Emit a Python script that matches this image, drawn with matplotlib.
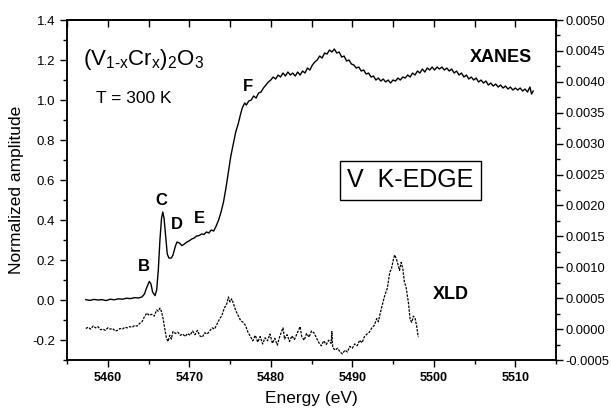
import numpy as np
import matplotlib
matplotlib.use("Agg")
import matplotlib.pyplot as plt
from matplotlib.ticker import MultipleLocator, FormatStrFormatter

plt.rcParams['font.family'] = ['Liberation Sans', 'DejaVu Sans']
plt.rcParams['mathtext.fontset'] = 'custom'
plt.rcParams['mathtext.rm'] = 'Liberation Sans'

#---- XANES (left axis, normalized amplitude) ---------------------------------
xanes_E = [5457.3, 5457.8, 5458.3, 5458.8, 5459.3, 5459.8, 5460.3, 5460.8,
           5461.3, 5461.8, 5462.3, 5462.8, 5463.3, 5463.8, 5464.2,
           5464.5, 5464.8, 5465.1, 5465.3, 5465.5, 5465.8, 5466.0, 5466.2,
           5466.4, 5466.6, 5466.75, 5466.9, 5467.1, 5467.3, 5467.5, 5467.8,
           5468.0, 5468.3, 5468.5, 5468.8, 5469.1, 5469.4, 5469.7, 5470.0,
           5470.3, 5470.6, 5470.9, 5471.2, 5471.5, 5471.8, 5472.1, 5472.4,
           5472.7, 5473.0, 5473.3, 5473.6, 5473.9, 5474.2, 5474.5, 5474.8,
           5475.1, 5475.4, 5475.7, 5476.0, 5476.3, 5476.5, 5476.8, 5477.0,
           5477.3, 5477.6, 5477.9, 5478.2, 5478.5, 5478.8, 5479.1, 5479.4,
           5479.7, 5480.0, 5480.3, 5480.6, 5480.9, 5481.2, 5481.5, 5481.8,
           5482.1, 5482.4, 5482.7, 5483.0, 5483.3, 5483.6, 5483.9, 5484.2,
           5484.5, 5484.8, 5485.1, 5485.4, 5485.7, 5486.0, 5486.3, 5486.6,
           5486.9, 5487.2, 5487.5, 5487.8, 5488.1, 5488.4, 5488.7, 5489.0,
           5489.3, 5489.6, 5489.9, 5490.2, 5490.5, 5490.8, 5491.1, 5491.4,
           5491.7, 5492.0, 5492.3, 5492.6, 5492.9, 5493.2, 5493.5, 5493.8,
           5494.1, 5494.4, 5494.7, 5495.0, 5495.3, 5495.6, 5495.9, 5496.2,
           5496.5, 5496.8, 5497.1, 5497.4, 5497.7, 5498.0, 5498.3, 5498.6,
           5498.9, 5499.2, 5499.5, 5499.8, 5500.1, 5500.4, 5500.7, 5501.0,
           5501.3, 5501.6, 5501.9, 5502.2, 5502.5, 5502.8, 5503.1, 5503.4,
           5503.7, 5504.0, 5504.3, 5504.6, 5504.9, 5505.2, 5505.5, 5505.8,
           5506.1, 5506.4, 5506.7, 5507.0, 5507.3, 5507.6, 5507.9, 5508.2,
           5508.5, 5508.8, 5509.1, 5509.4, 5509.7, 5510.0, 5510.3, 5510.6,
           5510.9, 5511.2, 5511.5, 5511.8, 5512.0, 5512.2]
xanes_v = [0.002, -0.002, 0.003, 0.000, 0.002, -0.003, 0.004, 0.001,
           0.006, 0.004, 0.009, 0.007, 0.012, 0.010, 0.016,
           0.030, 0.065, 0.093, 0.080, 0.040, 0.022, 0.050, 0.150,
           0.300, 0.410, 0.440, 0.410, 0.320, 0.230, 0.210, 0.210,
           0.225, 0.270, 0.290, 0.285, 0.272, 0.280, 0.290, 0.296,
           0.305, 0.310, 0.320, 0.322, 0.330, 0.328, 0.340, 0.335,
           0.350, 0.345, 0.370, 0.400, 0.440, 0.490, 0.560, 0.640,
           0.720, 0.780, 0.840, 0.880, 0.930, 0.960, 0.985, 0.975,
           0.995, 1.000, 1.020, 1.010, 1.035, 1.040, 1.060, 1.075,
           1.090, 1.100, 1.115, 1.105, 1.125, 1.115, 1.135, 1.120,
           1.140, 1.125, 1.135, 1.120, 1.140, 1.125, 1.145, 1.135,
           1.160, 1.150, 1.175, 1.190, 1.200, 1.220, 1.210, 1.235,
           1.230, 1.250, 1.240, 1.255, 1.235, 1.240, 1.215, 1.220,
           1.195, 1.200, 1.180, 1.175, 1.160, 1.165, 1.145, 1.150,
           1.130, 1.135, 1.115, 1.120, 1.100, 1.110, 1.095, 1.105,
           1.090, 1.100, 1.085, 1.100, 1.095, 1.110, 1.100, 1.115,
           1.110, 1.125, 1.115, 1.135, 1.125, 1.145, 1.135, 1.155,
           1.140, 1.160, 1.150, 1.165, 1.150, 1.165, 1.155, 1.165,
           1.150, 1.160, 1.145, 1.155, 1.135, 1.145, 1.125, 1.135,
           1.115, 1.125, 1.105, 1.115, 1.100, 1.110, 1.090, 1.100,
           1.085, 1.095, 1.075, 1.085, 1.070, 1.080, 1.065, 1.075,
           1.060, 1.070, 1.055, 1.065, 1.050, 1.060, 1.050, 1.060,
           1.045, 1.055, 1.040, 1.065, 1.030, 1.045]

#---- XLD (right axis) --------------------------------------------------------
xld_E = [5457.3, 5457.6, 5457.9, 5458.2, 5458.5, 5458.8, 5459.1, 5459.4,
         5459.7, 5460.0, 5460.3, 5460.6, 5460.9, 5461.2, 5461.5, 5461.8,
         5462.1, 5462.4, 5462.7, 5463.0, 5463.3, 5463.6, 5463.9, 5464.2,
         5464.5, 5464.8, 5465.1, 5465.4, 5465.7, 5466.0, 5466.2, 5466.4,
         5466.6, 5466.8, 5467.0, 5467.2, 5467.4, 5467.6, 5467.8, 5468.0,
         5468.3, 5468.6, 5468.9, 5469.2, 5469.5, 5469.8, 5470.1, 5470.4,
         5470.7, 5471.0, 5471.3, 5471.6, 5471.9, 5472.2, 5472.5, 5472.8,
         5473.1, 5473.4, 5473.7, 5474.0, 5474.3, 5474.6, 5474.8, 5475.0,
         5475.2, 5475.4, 5475.7, 5476.0, 5476.3, 5476.6, 5476.9, 5477.2,
         5477.5, 5477.8, 5478.1, 5478.4, 5478.7, 5479.0, 5479.3, 5479.6,
         5479.9, 5480.2, 5480.5, 5480.8, 5481.1, 5481.5, 5481.7, 5482.0,
         5482.3, 5482.6, 5482.9, 5483.2, 5483.6, 5483.8, 5484.1, 5484.4,
         5484.7, 5485.0, 5485.3, 5485.6, 5485.9, 5486.2, 5486.5, 5486.8,
         5487.1, 5487.4, 5487.5, 5487.6, 5487.9, 5488.2, 5488.5, 5488.8,
         5489.1, 5489.4, 5489.7, 5490.0, 5490.3, 5490.6, 5490.9, 5491.2,
         5491.5, 5491.8, 5492.1, 5492.4, 5492.7, 5493.0, 5493.2, 5493.4,
         5493.7, 5494.0, 5494.3, 5494.6, 5494.8, 5495.0, 5495.2, 5495.4,
         5495.6, 5495.8, 5496.0, 5496.2, 5496.4, 5496.6, 5496.9, 5497.1,
         5497.3, 5497.5, 5497.7, 5497.9, 5498.1]
xld_v = [0.00001, 0.00003, 0.00000, 0.00005, 0.00002, 0.00004, -0.00001, 0.00000,
         -0.00002, 0.00002, 0.00000, 0.00001, -0.00003, -0.00002, 0.00001, 0.00000,
         0.00003, 0.00002, 0.00004, 0.00003, 0.00006, 0.00005, 0.00009, 0.00012,
         0.00020, 0.00026, 0.00022, 0.00024, 0.00021, 0.00031, 0.00029, 0.00034,
         0.00028, 0.00016, 0.00000, -0.00015, -0.00020, -0.00010, -0.00016, -0.00004,
         -0.00007, -0.00005, -0.00010, -0.00008, -0.00012, -0.00007, -0.00010, -0.00003,
         -0.00009, -0.00002, -0.00011, -0.00013, -0.00006, -0.00008, -0.00003, 0.00002,
         0.00000, 0.00008, 0.00016, 0.00022, 0.00034, 0.00041, 0.00052, 0.00044,
         0.00049, 0.00042, 0.00030, 0.00022, 0.00014, 0.00011, 0.00006, -0.00005,
         -0.00012, -0.00019, -0.00010, -0.00021, -0.00012, -0.00024, -0.00014, -0.00019,
         -0.00008, -0.00023, -0.00015, -0.00026, -0.00012, 0.00002, -0.00016, -0.00009,
         -0.00020, -0.00011, -0.00017, -0.00008, 0.00004, -0.00012, -0.00018, -0.00007,
         -0.00013, -0.00003, -0.00006, -0.00014, -0.00022, -0.00027, -0.00019, -0.00025,
         -0.00018, -0.00023, -0.00004, -0.00030, -0.00034, -0.00031, -0.00037, -0.00040,
         -0.00034, -0.00037, -0.00028, -0.00031, -0.00024, -0.00027, -0.00018, -0.00022,
         -0.00012, -0.00008, -0.00005, 0.00002, 0.00006, 0.00017, 0.00012, 0.00024,
         0.00040, 0.00055, 0.00066, 0.00092, 0.00097, 0.00110, 0.00120, 0.00114,
         0.00105, 0.00095, 0.00108, 0.00098, 0.00076, 0.00068, 0.00042, 0.00015,
         0.00011, 0.00021, 0.00018, 0.00005, -0.00013]

# peak labels (letter, energy, amplitude)
peak_names = ['B', 'C', 'D', 'E', 'F']
peak_E     = [5464.45, 5466.55, 5468.45, 5471.2, 5477.25]
peak_y     = [0.17, 0.50, 0.38, 0.41, 1.07]

#==============================================================================

fig = plt.figure(figsize=(6.11, 4.13), dpi=100)
ax = fig.add_axes([0.1097, 0.1283, 0.8003, 0.8232])

ax.plot(xanes_E, xanes_v, color='black', lw=1.0)

ax2 = ax.twinx()
ax2.plot(xld_E, xld_v, color='black', lw=0.9, ls=(0, (2.0, 1.0)))

ax.set_xlim(5455, 5515)
ax.set_ylim(-0.3, 1.4)
ax2.set_ylim(-0.0005, 0.005)

# ticks
ax.xaxis.set_major_locator(MultipleLocator(10))
ax.xaxis.set_minor_locator(MultipleLocator(5))
ax.yaxis.set_major_locator(MultipleLocator(0.2))
ax.yaxis.set_minor_locator(MultipleLocator(0.1))
ax.yaxis.set_major_formatter(FormatStrFormatter('%.1f'))
ax2.yaxis.set_major_locator(MultipleLocator(0.0005))
ax2.yaxis.set_minor_locator(MultipleLocator(0.00025))
ax2.yaxis.set_major_formatter(FormatStrFormatter('%.4f'))

ax.tick_params(which='both', direction='out', width=1.0, labelsize=9.5)
ax.tick_params(which='major', length=5)
ax.tick_params(which='minor', length=3)
ax2.tick_params(which='both', direction='out', width=1.0, labelsize=9.3, pad=2)
ax2.tick_params(which='major', length=5)
ax2.tick_params(which='minor', length=3)
for lab in ax.get_xticklabels():
    lab.set_fontweight('bold')
    lab.set_fontsize(9)

top = ax.secondary_xaxis('top')
top.xaxis.set_major_locator(MultipleLocator(5))
top.tick_params(direction='in', length=5, width=1.0, labeltop=False)

for a in (ax, ax2):
    for s in a.spines.values():
        s.set_linewidth(1.1)
top.spines['top'].set_linewidth(1.1)

ax.set_xlabel('Energy (eV)', fontsize=12.5, labelpad=5)
ax.set_ylabel('Normalized amplitude', fontsize=12.5, labelpad=6)

# annotations
for name, e, y in zip(peak_names, peak_E, peak_y):
    ax.text(e, y, name, fontsize=12, fontweight='bold', ha='center', va='center')

ax.text(5457.0, 1.175, r'$\mathregular{(V_{1\text{-}x}Cr_x)_2O_3}$', fontsize=16,
        ha='left', va='baseline')
ax.text(5458.6, 0.983, 'T = 300 K', fontsize=12.5, ha='left', va='baseline')
ax.text(5508.3, 1.215, 'XANES', fontsize=13, fontweight='bold', ha='center', va='center')
ax.text(5502.1, 0.03, 'XLD', fontsize=13, fontweight='bold', ha='center', va='center')
ax.text(5497.1, 0.60, 'V  K-EDGE', fontsize=18, ha='center', va='center',
        bbox=dict(boxstyle='square,pad=0.3', fc='white', ec='black', lw=1.0))

fig.savefig('out.png', dpi=100)
